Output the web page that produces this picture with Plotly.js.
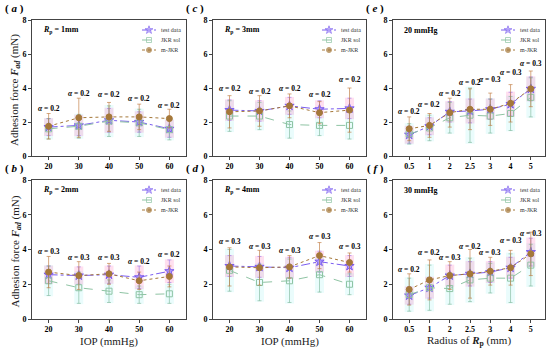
<!DOCTYPE html>
<html><head><meta charset="utf-8">
<script src="https://cdn.plot.ly/plotly-3.0.1.min.js"></script>
<style>body{margin:0;background:#fff}#c{width:550px;height:349px}</style>
</head><body><div id="c"></div>
<script>
// ---- data ----
const iop = [20, 30, 40, 50, 60];
const radius = ['0.5', '1', '2', '2.5', '3', '4', '5'];

// (a) Rp = 1mm
const aTest = [1.7, 1.8, 2.1, 2.0, 1.6];
const aJkr  = [1.6, 1.75, 2.05, 1.95, 1.55];
const aMjkr = [1.75, 2.25, 2.3, 2.3, 2.2];
const aTestErr = [0.5, 0.6, 0.7, 0.6, 0.5];
const aJkrErr  = [0.6, 0.7, 0.9, 0.8, 0.6];
const aMjkrErr = [0.75, 1.15, 0.85, 0.75, 0.55];
const aAlpha = ['0.2', '0.2', '0.2', '0.2', '0.2'];
const aAlphaY = [2.8, 3.7, 3.6, 3.4, 3.0];

// (b) Rp = 2mm
const bTest = [2.55, 2.5, 2.55, 2.4, 2.75];
const bJkr  = [2.2, 1.8, 1.6, 1.4, 1.45];
const bMjkr = [2.7, 2.5, 2.6, 2.2, 2.45];
const bTestErr = [0.5, 0.5, 0.5, 0.65, 0.65];
const bJkrErr  = [0.85, 0.9, 0.65, 0.5, 0.55];
const bMjkrErr = [0.9, 0.8, 0.6, 0.5, 0.6];
const bAlpha = ['0.3', '0.3', '0.3', '0.2', '0.2'];
const bAlphaY = [3.9, 3.55, 3.55, 3.3, 3.7];

// (c) Rp = 3mm
const cTest = [2.7, 2.65, 2.95, 2.75, 2.8];
const cJkr  = [2.35, 2.35, 1.85, 1.8, 1.8];
const cMjkr = [2.6, 2.65, 2.95, 2.55, 2.7];
const cTestErr = [0.6, 0.6, 0.5, 0.5, 0.6];
const cJkrErr  = [0.9, 0.8, 0.8, 0.6, 0.8];
const cMjkrErr = [0.95, 0.9, 0.7, 0.65, 1.3];
const cAlpha = ['0.2', '0.2', '0.2', '0.2', '0.2'];
const cAlphaY = [4.0, 3.8, 4.0, 3.6, 4.5];

// (d) Rp = 4mm
const dTest = [3.05, 3.0, 2.95, 3.3, 3.05];
const dJkr  = [2.8, 2.1, 2.2, 2.55, 2.0];
const dMjkr = [3.0, 2.95, 3.0, 3.65, 3.25];
const dTestErr = [0.6, 0.6, 0.6, 0.6, 0.6];
const dJkrErr  = [1.2, 1.05, 1.25, 1.0, 0.6];
const dMjkrErr = [1.1, 1.0, 0.65, 0.75, 0.55];
const dAlpha = ['0.3', '0.3', '0.3', '0.3', '0.3'];
const dAlphaY = [4.45, 4.2, 3.95, 4.75, 4.2];

// (e) 20 mmHg
const eTest = [1.25, 1.75, 2.6, 2.65, 2.75, 3.05, 3.95];
const eJkr  = [1.3, 1.65, 2.25, 2.4, 2.35, 2.5, 3.45];
const eMjkr = [1.6, 1.8, 2.55, 2.75, 2.75, 3.1, 3.95];
const eTestErr = [0.5, 0.5, 0.6, 0.7, 0.6, 0.7, 0.7];
const eJkrErr  = [0.6, 0.75, 0.9, 1.6, 1.0, 1.0, 1.15];
const eMjkrErr = [0.7, 0.7, 0.85, 1.2, 0.95, 1.1, 1.05];
const eAlpha = ['0.2', '0.2', '0.2', '0.2', '0.3', '0.3', '0.3'];
const eAlphaY = [2.6, 3.05, 3.7, 4.3, 4.5, 4.9, 5.45];

// (f) 30 mmHg
const fTest = [1.35, 1.8, 2.5, 2.6, 2.7, 2.95, 3.85];
const fJkr  = [1.4, 1.8, 1.75, 2.25, 2.35, 2.35, 3.1];
const fMjkr = [1.7, 2.25, 2.5, 2.6, 2.75, 2.95, 3.75];
const fTestErr = [0.5, 0.6, 0.6, 0.7, 0.6, 0.6, 0.8];
const fJkrErr  = [0.95, 1.3, 0.9, 1.25, 0.85, 1.4, 1.2];
const fMjkrErr = [0.9, 1.15, 0.8, 1.4, 0.8, 1.0, 1.25];
const fAlpha = ['0.2', '0.2', '0.3', '0.2', '0.3', '0.3', '0.3'];
const fAlphaY = [2.85, 3.8, 3.55, 4.2, 3.85, 4.5, 4.9];

const seriesNames = ['test data', 'JKR sol', 'm-JKR'];

// ---- layout geometry ----
const W = 550, H = 349;
const cols = [[32, 186], [213, 366], [393, 545]];
const rows = [[20, 156], [180, 319]];

const panels = [
  {id: 'a', col: 0, row: 0, x: iop, d: [aTest, aJkr, aMjkr], e: [aTestErr, aJkrErr, aMjkrErr], al: aAlpha, ay: aAlphaY, note: '<b><i>R</i><sub>p</sub> = 1mm</b>', cat: false},
  {id: 'c', col: 1, row: 0, x: iop, d: [cTest, cJkr, cMjkr], e: [cTestErr, cJkrErr, cMjkrErr], al: cAlpha, ay: cAlphaY, note: '<b><i>R</i><sub>p</sub> = 3mm</b>', cat: false},
  {id: 'e', col: 2, row: 0, x: radius, d: [eTest, eJkr, eMjkr], e: [eTestErr, eJkrErr, eMjkrErr], al: eAlpha, ay: eAlphaY, note: '<b>20 mmHg</b>', cat: true},
  {id: 'b', col: 0, row: 1, x: iop, d: [bTest, bJkr, bMjkr], e: [bTestErr, bJkrErr, bMjkrErr], al: bAlpha, ay: bAlphaY, note: '<b><i>R</i><sub>p</sub> = 2mm</b>', cat: false},
  {id: 'd', col: 1, row: 1, x: iop, d: [dTest, dJkr, dMjkr], e: [dTestErr, dJkrErr, dMjkrErr], al: dAlpha, ay: dAlphaY, note: '<b><i>R</i><sub>p</sub> = 4mm</b>', cat: false},
  {id: 'f', col: 2, row: 1, x: radius, d: [fTest, fJkr, fMjkr], e: [fTestErr, fJkrErr, fMjkrErr], al: fAlpha, ay: fAlphaY, note: '<b>30 mmHg</b>', cat: true}
];

const colors = ['#7a5cf0', '#8fc4a4', '#a5783a'];
const shadeOrder = [1, 0];
const shade = ['rgba(255,110,180,0.22)', 'rgba(90,230,230,0.13)', null];
const errCol = ['rgba(150,110,230,0.75)', 'rgba(120,180,150,0.75)', 'rgba(190,120,60,0.8)'];
const dashes = ['dashdot', 'dash', 'dot'];
const symbols = ['star', 'square-open', 'circle'];
const msizes = [7, 6, 6];
const mfill = ['rgba(170,150,250,0.9)', '#8fc4a4', '#a5783a'];
const serif = 'Liberation Serif, Times New Roman, serif';

const traces = [];
const layout = {
  width: W, height: H,
  margin: {l: 0, r: 0, t: 0, b: 0},
  paper_bgcolor: '#fff', plot_bgcolor: 'rgba(0,0,0,0)',
  font: {family: serif, color: '#000'},
  annotations: [],
  showlegend: false
};

function ann(o) {
  layout.annotations.push(Object.assign({showarrow: false, xanchor: 'center', yanchor: 'middle'}, o));
}

panels.forEach((p, i) => {
  const n = i + 1;
  const xa = 'xaxis' + (n === 1 ? '' : n), ya = 'yaxis' + (n === 1 ? '' : n);
  const xr = 'x' + (n === 1 ? '' : n), yr = 'y' + (n === 1 ? '' : n);
  const ln = n + 6;  // overlay axes for the legend, in pixel units
  const lxr = 'x' + ln, lyr = 'y' + ln;
  const [x0, x1] = cols[p.col], [y0, y1] = rows[p.row];
  layout[xa] = {
    domain: [x0 / W, x1 / W], anchor: yr,
    range: p.cat ? [-0.8, 6.7] : [14.5, 65.5],
    type: p.cat ? 'category' : 'linear',
    tickvals: p.cat ? undefined : iop,
    showline: true, mirror: true, linecolor: '#444', linewidth: 1,
    ticks: 'outside', ticklen: 3, tickcolor: '#444', ticklabelstandoff: -1,
    showgrid: false, zeroline: false,
    tickfont: {family: serif, size: 8, weight: 'bold', color: '#000'}
  };
  layout[ya] = {
    domain: [1 - y1 / H, 1 - y0 / H], anchor: xr,
    range: [0, 8], tickvals: [0, 2, 4, 6, 8],
    showline: true, mirror: true, linecolor: '#444', linewidth: 1,
    ticks: 'outside', ticklen: 3, tickcolor: '#444',
    showgrid: false, zeroline: false,
    tickfont: {family: serif, size: 8, weight: 'bold', color: '#000'}
  };
  layout['xaxis' + ln] = {domain: [x0 / W, x1 / W], anchor: lyr, range: [x0, x1], visible: false, fixedrange: true};
  layout['yaxis' + ln] = {domain: [1 - y1 / H, 1 - y0 / H], anchor: lxr, range: [y1, y0], visible: false, fixedrange: true};

  // shaded bands
  shadeOrder.forEach(s => {
    traces.push({
      x: p.x, y: p.d[s], xaxis: xr, yaxis: yr, type: 'scatter', mode: 'markers',
      marker: {size: 1, color: 'rgba(0,0,0,0)'}, hoverinfo: 'skip',
      error_y: {type: 'data', array: p.e[s].map(v => v * 1.05), color: shade[s], thickness: 9, width: 0}
    });
  });
  // series
  for (let s = 0; s < 3; s++) {
    traces.push({
      x: p.x, y: p.d[s], xaxis: xr, yaxis: yr, type: 'scatter', mode: 'lines+markers',
      name: seriesNames[s],
      line: {color: colors[s], dash: dashes[s], width: 1},
      marker: {symbol: symbols[s], size: msizes[s], color: mfill[s], line: {color: colors[s], width: 1}},
      error_y: {type: 'data', array: p.e[s], color: errCol[s], thickness: 0.8, width: 2}
    });
  }
  // compact legend (sample line + marker + label)
  const lx0 = x1 - 44, lx1 = x1 - 30;
  for (let s = 0; s < 3; s++) {
    const ly = y0 + 10 + 10 * s;
    traces.push({
      x: [lx0, (lx0 + lx1) / 2, lx1], y: [ly, ly, ly], xaxis: lxr, yaxis: lyr,
      type: 'scatter', mode: 'lines+markers', hoverinfo: 'skip',
      line: {color: colors[s], dash: dashes[s], width: 1},
      marker: {symbol: symbols[s], size: [0, msizes[s] - 1, 0], color: mfill[s], line: {color: colors[s], width: [0, 1, 0]}}
    });
    ann({x: lx1 + 3, y: ly, xref: lxr, yref: lyr, xanchor: 'left', text: seriesNames[s],
         font: {family: serif, size: 6, color: '#333'}});
  }
  // alpha labels
  p.x.forEach((xv, k) => {
    ann({x: p.cat ? k : xv, y: p.ay[k], xref: xr, yref: yr,
         text: '<b><i>α</i> = ' + p.al[k] + '</b>', font: {family: serif, size: 7.5, color: '#000'}});
  });
  // inner note
  ann({x: (x0 + 9) / W, y: 1 - (y0 + 10) / H, xref: 'paper', yref: 'paper', xanchor: 'left',
       text: p.note, font: {family: serif, size: 8, color: '#000'}});
  // panel letter
  ann({x: (x0 - 18) / W, y: 1 - (y0 - 11) / H, xref: 'paper', yref: 'paper',
       text: '<b>( <i>' + p.id + '</i> )</b>', font: {family: serif, size: 11, color: '#000'}});
});

// y titles
[0, 1].forEach(r => {
  ann({x: 15 / W, y: 1 - ((rows[r][0] + rows[r][1]) / 2 + 2) / H, xref: 'paper', yref: 'paper',
       text: 'Adhesion force <b><i>F</i><sub><i>ad</i></sub></b> (mN)', textangle: -90,
       font: {family: serif, size: 11, color: '#222'}});
});
// x titles
[['IOP (mmHg)', 0], ['IOP (mmHg)', 1], ['Radius of <b><i>R</i><sub>p</sub></b> (mm)', 2]].forEach(([t, c]) => {
  ann({x: ((cols[c][0] + cols[c][1]) / 2) / W, y: 1 - 341 / H, xref: 'paper', yref: 'paper',
       text: t, font: {family: serif, size: 11, color: '#222'}});
});

Plotly.newPlot('c', traces, layout, {staticPlot: true});
</script></body></html>
